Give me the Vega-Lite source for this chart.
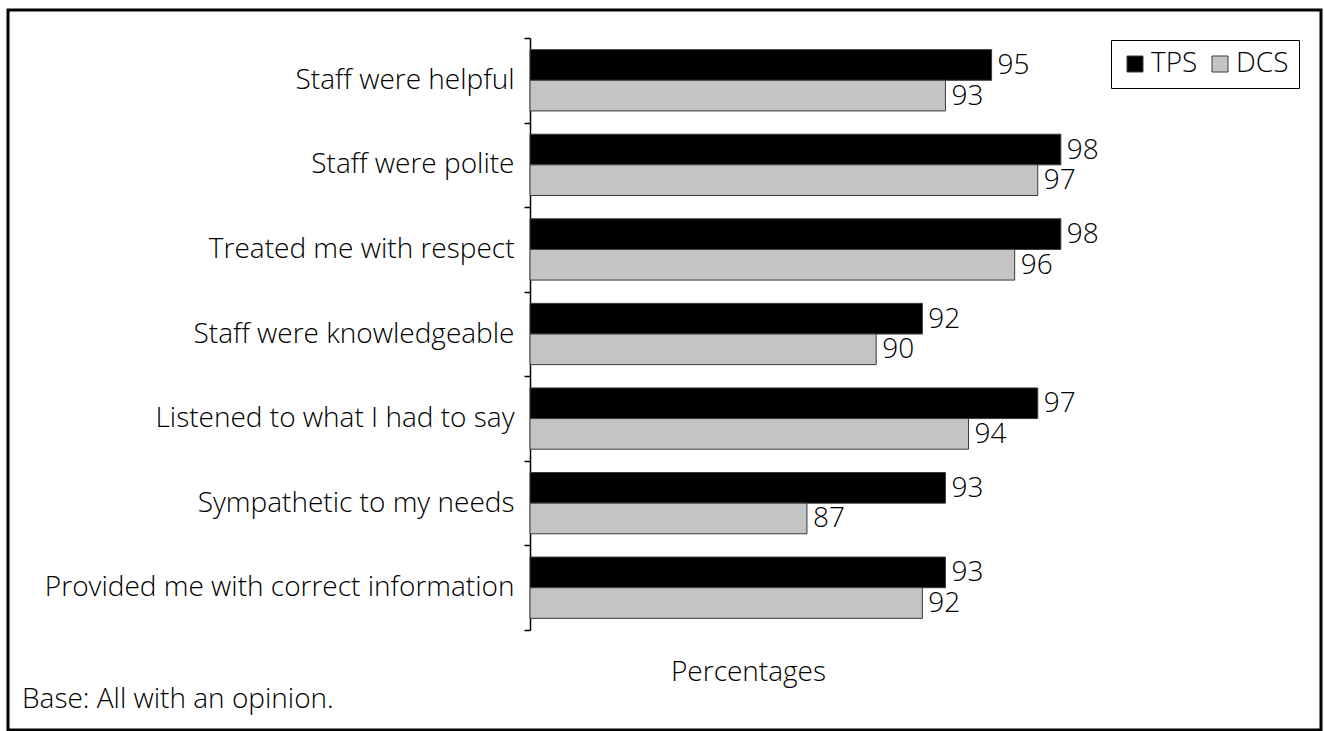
{
  "$schema": "https://vega.github.io/schema/vega-lite/v6.json",
  "autosize": {"type": "none"},
  "padding": {"left": 8, "top": 10, "right": 3, "bottom": 1},
  "width": 1313,
  "height": 720,
  "background": "white",
  "config": {
    "view": {"stroke": "black", "strokeWidth": 3},
    "font": "Open Sans"
  },
  "title": {
    "text": "Base: All with an opinion.",
    "orient": "bottom",
    "anchor": "start",
    "frame": "group",
    "offset": -44,
    "dx": 14,
    "fontSize": 28,
    "fontWeight": 300,
    "font": "Open Sans",
    "color": "black"
  },
  "data": {
    "values": [
      {"item": "Staff were helpful", "series": "TPS", "value": 95},
      {"item": "Staff were helpful", "series": "DCS", "value": 93},
      {"item": "Staff were polite", "series": "TPS", "value": 98},
      {"item": "Staff were polite", "series": "DCS", "value": 97},
      {"item": "Treated me with respect", "series": "TPS", "value": 98},
      {"item": "Treated me with respect", "series": "DCS", "value": 96},
      {"item": "Staff were knowledgeable", "series": "TPS", "value": 92},
      {"item": "Staff were knowledgeable", "series": "DCS", "value": 90},
      {"item": "Listened to what I had to say", "series": "TPS", "value": 97},
      {"item": "Listened to what I had to say", "series": "DCS", "value": 94},
      {"item": "Sympathetic to my needs", "series": "TPS", "value": 93},
      {"item": "Sympathetic to my needs", "series": "DCS", "value": 87},
      {"item": "Provided me with correct information", "series": "TPS", "value": 93},
      {"item": "Provided me with correct information", "series": "DCS", "value": 92}
    ]
  },
  "encoding": {
    "y": {
      "field": "item",
      "type": "nominal",
      "sort": null,
      "scale": {"range": [28, 620], "paddingInner": 0, "paddingOuter": 0},
      "axis": {
        "title": null,
        "orient": "left",
        "offset": -522,
        "tickBand": "extent",
        "domainColor": "black",
        "domainWidth": 1.5,
        "tickColor": "black",
        "tickWidth": 1.5,
        "tickSize": 6,
        "labelPadding": 10,
        "labelFont": "Open Sans",
        "labelFontSize": 28,
        "labelFontWeight": 300,
        "labelColor": "black",
        "labelLimit": 600
      }
    },
    "yOffset": {
      "field": "series",
      "type": "nominal",
      "sort": ["TPS", "DCS"],
      "scale": {"paddingInner": 0, "paddingOuter": 0.38}
    },
    "x": {
      "field": "value",
      "type": "quantitative",
      "scale": {"domain": [75, 100], "range": [522, 1099], "zero": false},
      "axis": {
        "title": "Percentages",
        "domain": false,
        "ticks": false,
        "labels": false,
        "grid": false,
        "titleX": 740,
        "titleY": -58,
        "titleAlign": "center",
        "titleBaseline": "middle",
        "titleFont": "Open Sans",
        "titleFontSize": 28,
        "titleFontWeight": 300,
        "titleColor": "black"
      }
    }
  },
  "layer": [
    {
      "mark": {"type": "bar", "stroke": "#3a3a3a", "strokeWidth": 1},
      "encoding": {
        "x2": {"datum": 75},
        "fill": {
          "field": "series",
          "type": "nominal",
          "sort": ["TPS", "DCS"],
          "scale": {"domain": ["TPS", "DCS"], "range": ["#000000", "#c4c4c4"]},
          "legend": {
            "title": null,
            "orient": "none",
            "legendX": 1103,
            "legendY": 30,
            "direction": "horizontal",
            "strokeColor": "black",
            "padding": 10,
            "symbolType": "square",
            "symbolSize": 256,
            "symbolStrokeColor": "#3a3a3a",
            "symbolStrokeWidth": 1,
            "labelFont": "Open Sans",
            "labelFontSize": 28,
            "labelFontWeight": 300,
            "labelColor": "black",
            "labelOffset": 2,
            "columnPadding": 8
          }
        }
      }
    },
    {
      "mark": {
        "type": "text",
        "align": "left",
        "baseline": "middle",
        "dx": 6,
        "dy": 1,
        "fontSize": 28,
        "fontWeight": 300,
        "font": "Open Sans",
        "color": "black"
      },
      "encoding": {
        "text": {"field": "value", "type": "quantitative"}
      }
    }
  ]
}
